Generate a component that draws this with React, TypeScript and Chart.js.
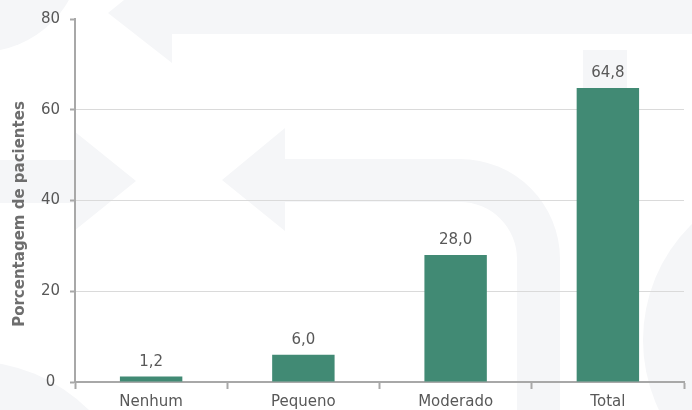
import React, { useEffect, useRef } from "react";
import { Chart, registerables } from "chart.js";

Chart.register(...registerables);

// ---- Data ----
const categories = ["Nenhum", "Pequeno", "Moderado", "Total"];
const percentages = [1.2, 6.0, 28.0, 64.8];
const yTickValues = [0, 20, 40, 60, 80];
const yAxisTitle = "Porcentagem de pacientes";

// ---- Styles ----
const FONT = "'DejaVu Sans', 'Open Sans', sans-serif";
const BAR_COLOR = "#418A74";
const AXIS_COLOR = "#A8A8A8";
const GRID_COLOR = "#DADADA";
const TEXT_COLOR = "#585858";
const TITLE_COLOR = "#6E6E6E";
const WATERMARK = "#F5F6F8";

const fmt = (v: number) => v.toFixed(1).replace(".", ",");

function poly(ctx: CanvasRenderingContext2D, pts: number[][]) {
  ctx.beginPath();
  ctx.moveTo(pts[0][0], pts[0][1]);
  for (let i = 1; i < pts.length; i++) ctx.lineTo(pts[i][0], pts[i][1]);
  ctx.closePath();
  ctx.fill();
}

// Faint background logo decoration
const watermarkPlugin = {
  id: "watermark",
  beforeDraw(chart: any) {
    const ctx: CanvasRenderingContext2D = chart.ctx;
    ctx.save();
    ctx.fillStyle = WATERMARK;
    ctx.beginPath();
    ctx.arc(-20, -50, 102, 0, Math.PI * 2);
    ctx.fill();
    ctx.beginPath();
    ctx.arc(-30, 530, 169, 0, Math.PI * 2);
    ctx.fill();
    ctx.beginPath();
    ctx.arc(805, 340, 162, 0, Math.PI * 2);
    ctx.fill();
    poly(ctx, [[108, 13], [172, -39], [172, -8], [700, -8], [700, 34], [172, 34], [172, 63]]);
    poly(ctx, [[-10, 160], [74, 160], [74, 131], [136, 181], [74, 231], [74, 203], [-10, 203]]);
    ctx.beginPath();
    ctx.moveTo(222, 180);
    ctx.lineTo(285, 128);
    ctx.lineTo(285, 159);
    ctx.lineTo(460, 159);
    ctx.arc(460, 259, 100, -Math.PI / 2, 0);
    ctx.lineTo(560, 420);
    ctx.lineTo(517, 420);
    ctx.lineTo(517, 259);
    ctx.arc(460, 259, 57, 0, -Math.PI / 2, true);
    ctx.lineTo(285, 202);
    ctx.lineTo(285, 231);
    ctx.closePath();
    ctx.fill();
    ctx.fillRect(583, 50, 44, 333);
    ctx.restore();
  },
};

const labelsPlugin = {
  id: "valueLabels",
  afterDatasetsDraw(chart: any) {
    const ctx: CanvasRenderingContext2D = chart.ctx;
    const meta = chart.getDatasetMeta(0);
    ctx.save();
    ctx.font = `15px ${FONT}`;
    ctx.fillStyle = TEXT_COLOR;
    ctx.textAlign = "center";
    ctx.textBaseline = "alphabetic";
    meta.data.forEach((bar: any, i: number) => {
      ctx.fillText(fmt(percentages[i]), bar.x, bar.y - 11);
    });
    ctx.restore();
  },
  afterDraw(chart: any) {
    const ctx: CanvasRenderingContext2D = chart.ctx;
    ctx.save();
    ctx.translate(20.5, 214);
    ctx.rotate(-Math.PI / 2);
    ctx.font = `bold 15px ${FONT}`;
    ctx.fillStyle = TITLE_COLOR;
    ctx.textAlign = "center";
    ctx.textBaseline = "middle";
    ctx.fillText(yAxisTitle, 0, 0);
    ctx.restore();
  },
};

export default function App() {
  const ref = useRef<HTMLCanvasElement | null>(null);

  useEffect(() => {
    if (!ref.current) return;
    const chart = new Chart(ref.current, {
      type: "bar",
      data: {
        labels: categories,
        datasets: [
          {
            data: percentages,
            backgroundColor: BAR_COLOR,
            borderWidth: 0,
            barPercentage: 0.41,
            categoryPercentage: 1,
          },
        ],
      },
      options: {
        animation: false,
        responsive: false,
        devicePixelRatio: 1,
        layout: { padding: { top: 17, right: 8, left: 0, bottom: 0 } },
        plugins: {
          legend: { display: false },
          tooltip: { enabled: false },
        },
        scales: {
          x: {
            grid: {
              display: true,
              offset: true,
              drawOnChartArea: false,
              drawTicks: true,
              tickLength: 7,
              tickColor: AXIS_COLOR,
              tickWidth: 2,
            },
            border: { display: true, color: AXIS_COLOR, width: 2 },
            ticks: {
              color: TEXT_COLOR,
              font: { family: FONT, size: 15 },
              padding: 4,
              maxRotation: 0,
            },
            afterFit: (s: any) => {
              s.height = 28;
            },
          },
          y: {
            min: 0,
            max: 80,
            afterBuildTicks: (s: any) => {
              s.ticks = yTickValues.map((v) => ({ value: v }));
            },
            grid: {
              color: (c: any) =>
                c.tick && (c.tick.value === 0 || c.tick.value === 80) ? "rgba(0,0,0,0)" : GRID_COLOR,
              lineWidth: 1,
              drawTicks: true,
              tickLength: 5,
              tickColor: AXIS_COLOR,
              tickWidth: 2,
            },
            border: { display: true, color: AXIS_COLOR, width: 2 },
            ticks: {
              color: TEXT_COLOR,
              font: { family: FONT, size: 15 },
              padding: 10,
              crossAlign: "center",
            },
            title: { display: false },
            afterFit: (s: any) => {
              s.width = 75;
            },
          },
        },
      },
      plugins: [watermarkPlugin, labelsPlugin],
    });
    return () => chart.destroy();
  }, []);

  return (
    <div style={{ position: "fixed", left: 0, top: 0, width: 692, height: 410, background: "#fff" }}>
      <canvas ref={ref} width={692} height={410} style={{ display: "block", width: 692, height: 410 }} />
    </div>
  );
}
